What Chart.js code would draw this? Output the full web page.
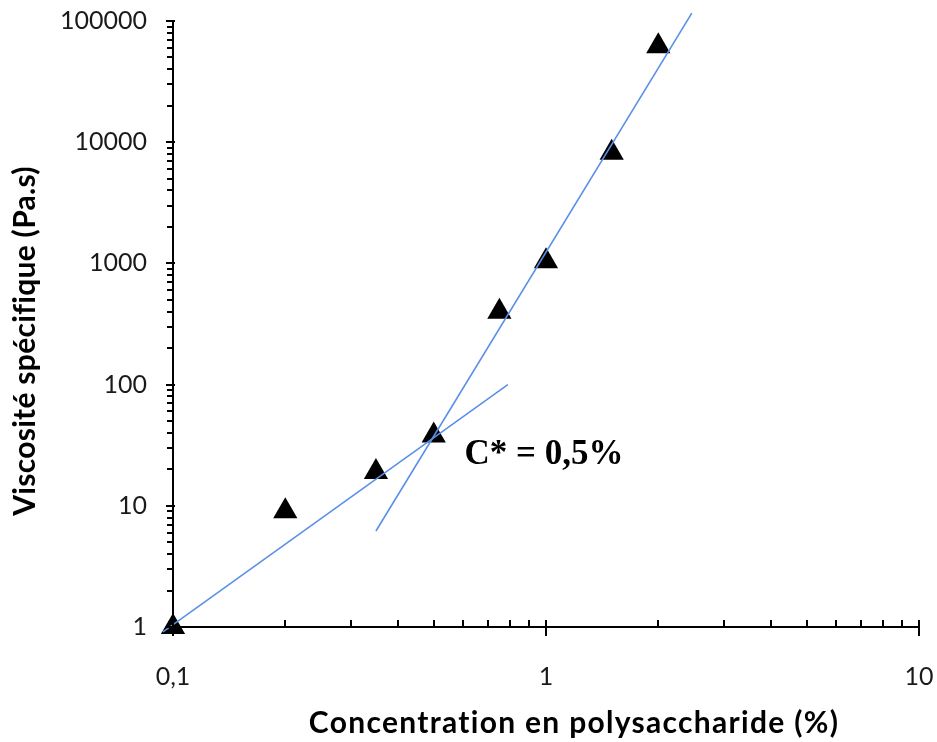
<!DOCTYPE html>
<html>
<head>
<meta charset="utf-8">
<script src="https://cdn.jsdelivr.net/npm/chart.js@4/dist/chart.umd.min.js"></script>
<style>
  html, body { margin: 0; padding: 0; background: #ffffff; }
  #wrap { width: 937px; height: 742px; position: relative; }
</style>
</head>
<body>
<div id="wrap"><canvas id="c" width="937" height="742"></canvas></div>
<script>
// ---- Data ----
const concentrations = [0.1, 0.2, 0.35, 0.5, 0.75, 1.0, 1.5, 2.0];          // %
const viscosities    = [1, 9, 19, 38, 400, 1040, 8200, 62000];              // Pa.s
// Fitted power-law lines (endpoints)
const dilutedFitX = [0.094, 0.79];
const dilutedFitY = [0.91, 100];
const semiDiluteFitX = [0.35, 2.46];
const semiDiluteFitY = [6.2, 116000];
// Axis ranges / tick labels
const xRange = [0.1, 10];
const yRange = [1, 100000];
const xTickLabels = {0.1: '0,1', 1: '1', 10: '10'};
const yTickLabels = {1: '1', 10: '10', 100: '100', 1000: '1000', 10000: '10000', 100000: '100000'};
// Titles & annotation
const xTitle = 'Concentration en polysaccharide (%)';
const yTitle = 'Viscosité spécifique (Pa.s)';
const annotText = 'C* = 0,5%';
const annotAt = {x: 0.605, y: 26.5};

const pts = (xs, ys) => xs.map((x, i) => ({x, y: ys[i]}));

function logTicks(min, max) {
  const out = [];
  const e0 = Math.round(Math.log10(min)), e1 = Math.round(Math.log10(max));
  for (let e = e0; e <= e1; e++) {
    for (let k = 1; k <= 9; k++) {
      const v = parseFloat((k * Math.pow(10, e)).toPrecision(6));
      if (v > max * 1.0000001) break;
      out.push({value: v, major: k === 1});
    }
  }
  return out;
}

const decorations = {
  id: 'decorations',
  afterDraw(chart) {
    const ctx = chart.ctx;
    const xs = chart.scales.x, ys = chart.scales.y;
    const ca = chart.chartArea;
    ctx.save();
    ctx.strokeStyle = '#000';
    ctx.lineWidth = 2;
    ctx.beginPath();
    xs.ticks.forEach(t => {
      const px = Math.round(xs.getPixelForValue(t.value));
      if (t.major) { ctx.moveTo(px, ca.bottom - 7); ctx.lineTo(px, ca.bottom + 9); }
      else { ctx.moveTo(px, ca.bottom - 7); ctx.lineTo(px, ca.bottom); }
    });
    ys.ticks.forEach(t => {
      const py = Math.round(ys.getPixelForValue(t.value));
      if (t.major) { ctx.moveTo(ca.left - 7, py); ctx.lineTo(ca.left + 2, py); }
      else { ctx.moveTo(ca.left - 6, py); ctx.lineTo(ca.left, py); }
    });
    ctx.stroke();

    // annotation
    ctx.fillStyle = '#000';
    ctx.font = 'bold 35px "Liberation Serif", "Times New Roman", serif';
    ctx.textAlign = 'left';
    ctx.textBaseline = 'middle';
    ctx.fillText(annotText, xs.getPixelForValue(annotAt.x), ys.getPixelForValue(annotAt.y));

    // axis titles
    ctx.font = 'bold 30px Lato';
    ctx.textBaseline = 'alphabetic';
    ctx.textAlign = 'center';
    if ('letterSpacing' in ctx) ctx.letterSpacing = '1.3px';
    ctx.fillText(xTitle, (ca.left + ca.right) / 2 + 28, chart.height - 9);
    if ('letterSpacing' in ctx) ctx.letterSpacing = '0.3px';
    ctx.translate(35, (ca.top + ca.bottom) / 2 + 17);
    ctx.rotate(-Math.PI / 2);
    ctx.fillText(yTitle, 0, 0);
    ctx.restore();
  }
};

const lineColor = '#5b8fe8';

new Chart(document.getElementById('c'), {
  type: 'scatter',
  data: {
    datasets: [
      {
        label: 'Viscosité',
        data: pts(concentrations, viscosities),
        pointStyle: 'triangle',
        pointRadius: 14,
        pointHoverRadius: 14,
        backgroundColor: '#000',
        borderColor: '#000',
        borderWidth: 0,
        clip: false,
        order: 2
      },
      {
        label: 'fit1',
        type: 'line',
        data: pts(dilutedFitX, dilutedFitY),
        borderColor: lineColor,
        borderWidth: 1.6,
        pointRadius: 0,
        fill: false,
        clip: false,
        order: 1
      },
      {
        label: 'fit2',
        type: 'line',
        data: pts(semiDiluteFitX, semiDiluteFitY),
        borderColor: lineColor,
        borderWidth: 1.6,
        pointRadius: 0,
        fill: false,
        clip: false,
        order: 1
      }
    ]
  },
  options: {
    responsive: false,
    animation: false,
    events: [],
    layout: { autoPadding: false, padding: { top: 21, right: 18, left: 0, bottom: 0 } },
    plugins: { legend: { display: false }, tooltip: { enabled: false } },
    scales: {
      x: {
        type: 'logarithmic',
        position: 'bottom',
        min: xRange[0], max: xRange[1],
        afterBuildTicks: s => { s.ticks = logTicks(xRange[0], xRange[1]); },
        afterFit: s => { s.height = 115; s.paddingLeft = 0; s.paddingRight = 0; },
        grid: { display: false, drawTicks: false },
        border: { display: true, color: '#000', width: 2 },
        ticks: {
          autoSkip: false, maxRotation: 0, padding: 35,
          color: '#1a1a1a',
          font: { family: 'Lato', size: 25 },
          callback: v => (xTickLabels[v] !== undefined ? xTickLabels[v] : '')
        },
        title: { display: false }
      },
      y: {
        type: 'logarithmic',
        position: 'left',
        min: yRange[0], max: yRange[1],
        afterBuildTicks: s => { s.ticks = logTicks(yRange[0], yRange[1]); },
        afterFit: s => { s.width = 173; s.paddingTop = 0; s.paddingBottom = 0; },
        grid: { display: false, drawTicks: false },
        border: { display: true, color: '#000', width: 2 },
        ticks: {
          autoSkip: false, padding: 26,
          color: '#1a1a1a',
          font: { family: 'Lato', size: 25 },
          callback: v => (yTickLabels[v] !== undefined ? yTickLabels[v] : '')
        },
        title: { display: false }
      }
    }
  },
  plugins: [decorations]
});
</script>
</body>
</html>
